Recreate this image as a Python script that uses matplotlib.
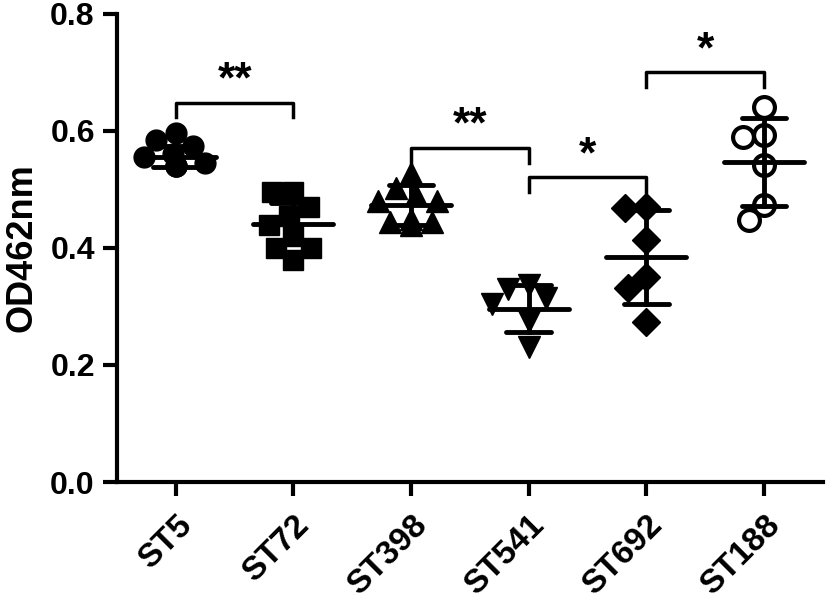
import numpy as np
import matplotlib
matplotlib.use("Agg")
import matplotlib.pyplot as plt

plt.rcParams['font.family'] = ['Liberation Sans', 'DejaVu Sans']
plt.rcParams['font.weight'] = 'bold'

# Data
groups = ['ST5', 'ST72', 'ST398', 'ST541', 'ST692', 'ST188']
st5 = [0.597, 0.585, 0.575, 0.56, 0.555, 0.545, 0.54, 0.54, 0.54]
st72 = [0.495, 0.495, 0.47, 0.455, 0.44, 0.42, 0.40, 0.40, 0.38]
st398 = [0.528, 0.502, 0.49, 0.48, 0.48, 0.45, 0.445, 0.44, 0.445]
st541 = [0.337, 0.33, 0.315, 0.305, 0.275, 0.23]
st692 = [0.47, 0.468, 0.414, 0.35, 0.332, 0.274]
st188 = [0.641, 0.59, 0.593, 0.542, 0.473, 0.448]
values = [st5, st72, st398, st541, st692, st188]

means = [0.556, 0.441, 0.474, 0.296, 0.385, 0.547]
sds = [0.018, 0.035, 0.034, 0.040, 0.080, 0.075]

# significance brackets: (left group, right group, height, label)
sig_left = [0, 2, 3, 4]
sig_right = [1, 3, 4, 5]
sig_height = [0.648, 0.571, 0.521, 0.700]
sig_label = ['**', '**', '*', '*']

markers = ['o', 's', '^', 'v', 'D', 'o']
msizes = [15, 15, 16, 16, 14, 15]
filled = [True, True, True, True, True, False]

fig = plt.figure(figsize=(8.27, 6.05), dpi=100)
ax = fig.add_axes([0.1415, 0.2033, 0.8535, 0.7737])
ax.set_xlim(-0.5, 5.5)
ax.set_ylim(0, 0.8)


def swarm_offsets(vals, diam_px):
    # simple greedy beeswarm in pixel space
    bbox = ax.get_window_extent()
    px_x = bbox.width / 6.0
    px_y = bbox.height / 0.8
    order = np.argsort(vals)[::-1]
    cand = np.linspace(-0.35, 0.35, 71)
    cand = cand[np.argsort(np.abs(cand), kind='stable')]
    placed = []
    offs = np.zeros(len(vals))
    for i in order:
        y = vals[i] * px_y
        for c in cand:
            x = c * px_x
            ok = all((x - px) ** 2 + (y - py) ** 2 >= diam_px ** 2
                     for px, py in placed)
            if ok:
                offs[i] = c
                placed.append((x, y))
                break
    return offs


for i, vals in enumerate(values):
    offs = swarm_offsets(vals, 21)
    xs = i + offs
    if filled[i]:
        ax.plot(xs, vals, linestyle='none', marker=markers[i],
                markersize=msizes[i], color='black', zorder=3)
    else:
        ax.plot(xs, vals, linestyle='none', marker=markers[i],
                markersize=msizes[i], markerfacecolor='white',
                markeredgecolor='black', markeredgewidth=3, zorder=3)
    # mean line and SD
    ax.plot([i - 0.34, i + 0.34], [means[i], means[i]], color='black',
            lw=3.5, solid_capstyle='round', zorder=4)
    ax.plot([i, i], [means[i] - sds[i], means[i] + sds[i]], color='black',
            lw=3.5, zorder=4)
    for yy in (means[i] - sds[i], means[i] + sds[i]):
        ax.plot([i - 0.19, i + 0.19], [yy, yy], color='black', lw=3.5,
                solid_capstyle='round', zorder=4)

for a, b, h, lab in zip(sig_left, sig_right, sig_height, sig_label):
    ax.plot([a, a, b, b], [h - 0.025, h, h, h - 0.025], color='black',
            lw=2.5, zorder=2)
    ax.text((a + b) / 2, h + 0.002, lab, ha='center', va='bottom',
            fontsize=32, fontweight='bold')

ax.spines['top'].set_visible(False)
ax.spines['right'].set_visible(False)
ax.spines['left'].set_linewidth(3)
ax.spines['bottom'].set_linewidth(3)
ax.set_yticks([0.0, 0.2, 0.4, 0.6, 0.8])
ax.set_yticklabels(['0.0', '0.2', '0.4', '0.6', '0.8'])
ax.set_xticks(range(len(groups)))
ax.set_xticklabels(groups, rotation=45, ha='right', rotation_mode='anchor')
ax.tick_params(axis='both', width=3, length=10, labelsize=23, pad=6)
ax.tick_params(axis='x', labelsize=24, pad=10)
ax.set_ylabel('OD462nm', fontsize=26, fontweight='bold', labelpad=8)

fig.savefig('out.png', dpi=100)
